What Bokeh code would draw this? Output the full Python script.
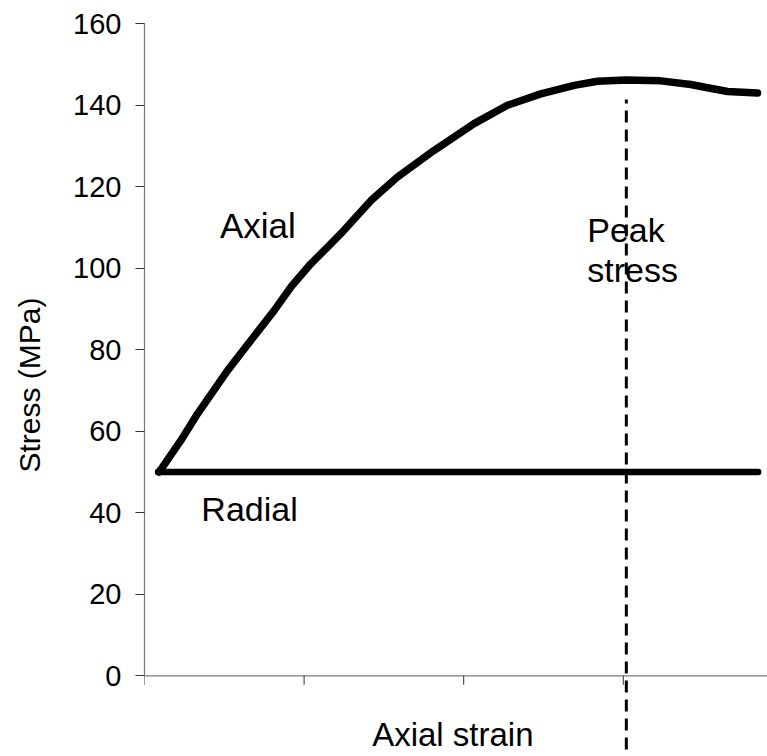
from bokeh.plotting import figure
from bokeh.models import Range1d, Label, FixedTicker
from bokeh.embed import file_html
from bokeh.resources import INLINE

# ---- data (x in tick-interval units of axial strain; x axis is unlabeled) ----
axial_strain = [0.09, 0.113, 0.227, 0.332, 0.52, 0.666, 0.812, 0.917, 1.042, 1.147,
                1.23, 1.418, 1.585, 1.813, 2.065, 2.274, 2.483, 2.692, 2.838, 3.016,
                3.235, 3.423, 3.528, 3.653, 3.841]
axial_stress = [50.0, 51.2, 57.7, 64.3, 74.9, 82.3, 89.6, 95.4, 101.1, 105.2,
                108.5, 116.6, 122.4, 128.9, 135.5, 140.0, 142.8, 144.9, 145.9, 146.2,
                146.0, 145.1, 144.3, 143.4, 143.0]
radial_strain = [0.085, 3.845]
radial_stress = [50.0, 50.0]
peak_strain = 3.019
peak_line_top = 141.4

y_ticks = [0, 20, 40, 60, 80, 100, 120, 140, 160]
x_ticks = [0, 1, 2, 3]

FONT = "Liberation Sans"
PX_PER_Y = 4.075
PX_PER_X = 159.6
y_end = 160 + (23.3 - 13) / PX_PER_Y
y_start = y_end - 743 / PX_PER_Y
x_end = 623 / PX_PER_X
LABEL_SHIFT = 13 / PX_PER_Y  # renderer draws the baseline ~13px lower

p = figure(width=767, height=756, output_backend="svg", toolbar_location=None,
           x_range=Range1d(0, x_end), y_range=Range1d(y_start, y_end),
           x_axis_location=None, y_axis_location="left",
           min_border_left=144, min_border_right=0, min_border_top=13,
           min_border_bottom=0)
p.outline_line_color = None
p.grid.visible = False
p.background_fill_color = "white"
p.border_fill_color = "white"

ax = p.yaxis[0]
ax.ticker = FixedTicker(ticks=y_ticks)
ax.bounds = (0, 160)
ax.axis_line_color = "#7a7a7a"
ax.axis_line_width = 1.2
ax.major_tick_line_color = "#333333"
ax.major_tick_out = 9
ax.major_tick_in = 0
ax.minor_tick_line_color = None
ax.major_label_text_font = FONT
ax.major_label_text_font_size = "29px"
ax.major_label_text_color = "black"
ax.major_label_standoff = 14
ax.axis_label = "Stress (MPa)"
ax.axis_label_text_font = FONT
ax.axis_label_text_font_size = "30px"
ax.axis_label_text_font_style = "normal"
ax.axis_label_text_color = "black"
ax.axis_label_standoff = 24

# hand-drawn x axis at stress = 0 (the dashed line runs below it)
p.segment(x0=[0], y0=[0], x1=[x_end], y1=[0], line_color="#7a7a7a", line_width=1.2)
p.segment(x0=x_ticks, y0=[0] * len(x_ticks), x1=x_ticks,
          y1=[-9 / PX_PER_Y] * len(x_ticks), line_color="#333333", line_width=1)

# curves
p.line(radial_strain, radial_stress, line_color="black", line_width=6.5, line_cap="round")
p.line(axial_strain, axial_stress, line_color="black", line_width=7.5,
       line_cap="round", line_join="round")

# peak stress dashed line
p.segment(x0=[peak_strain], y0=[peak_line_top], x1=[peak_strain], y1=[y_start],
          line_color="black", line_width=3, line_dash="12 7", line_dash_offset=8)

def lab(text, x, y, size, align="center"):
    p.add_layout(Label(x=x, y=y + LABEL_SHIFT, text=text, text_font=FONT,
                       text_font_size=size, text_align=align,
                       text_baseline="alphabetic", text_color="black"))

lab("Axial", 0.71, 107.3, "35px")
lab("Radial", 0.658, 37.7, "34px")
lab("Peak", 2.774, 106.1, "34px", "left")
lab("stress", 2.774, 96.5, "34px", "left")
lab("Axial strain", 1.932, -17.6, "33px")

open("out.html", "w").write(file_html(p, INLINE))
